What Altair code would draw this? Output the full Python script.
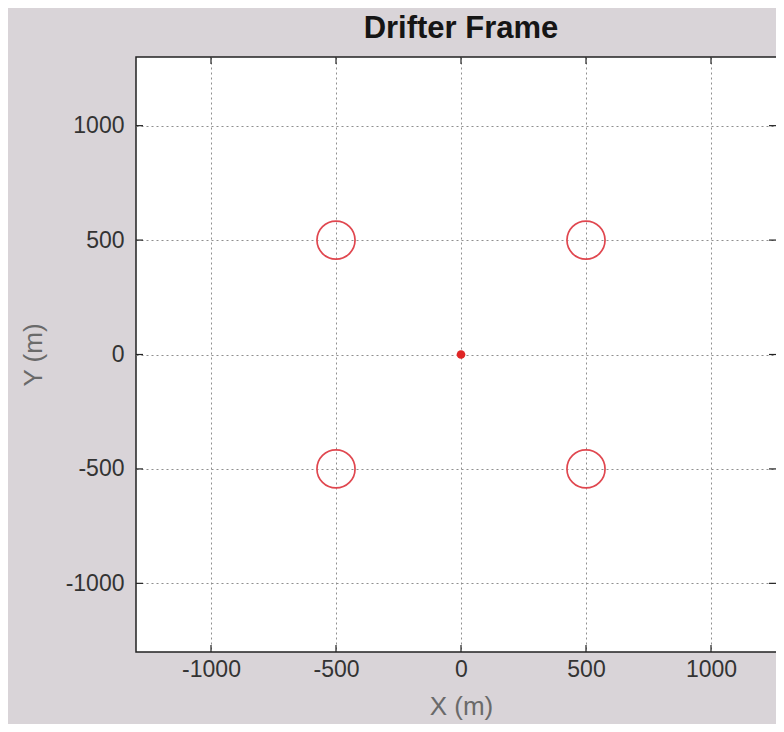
import altair as alt
import pandas as pd

# data
circle_x = [-500, 500, -500, 500]
circle_y = [500, 500, -500, -500]
center_x = [0]
center_y = [0]
ticks = [-1000, -500, 0, 500, 1000]

W, H = 650, 595
FONT = "Liberation Sans, Arial, sans-serif"

circles = pd.DataFrame({"x": circle_x, "y": circle_y})
center = pd.DataFrame({"x": center_x, "y": center_y})
tickdf = pd.DataFrame({"t": ticks})

xs = alt.Scale(domain=[-1300, 1300], nice=False, zero=False)
ys = alt.Scale(domain=[-1300, 1300], nice=False, zero=False)

common = dict(values=ticks, grid=True, gridDash=[2, 3], gridColor="#8f8f8f",
              gridWidth=1, ticks=False, domain=False, labelFont=FONT, labelFontSize=23,
              labelColor="#333333", labelExpr="datum.value + ''",
              titleFont=FONT, titleFontSize=26, titleFontWeight="normal",
              titleColor="#6a6a6a")
xax = alt.Axis(title="X (m)", labelPadding=6, titlePadding=12, **common)
yax = alt.Axis(title="Y (m)", labelPadding=12, titlePadding=19, **common)

rings = alt.Chart(circles).mark_point(shape="circle", size=1450, filled=False,
                                      color="#e0474f", strokeWidth=1.7, opacity=1).encode(
    x=alt.X("x:Q", scale=xs, axis=xax),
    y=alt.Y("y:Q", scale=ys, axis=yax),
)

dot = alt.Chart(center).mark_point(shape="circle", size=75, filled=True,
                                   color="#e02626", opacity=1).encode(
    x=alt.X("x:Q", scale=xs),
    y=alt.Y("y:Q", scale=ys),
)

tick_style = dict(color="#222222", strokeWidth=1.2)
tb = alt.Chart(tickdf).mark_rule(**tick_style).encode(
    x=alt.X("t:Q", scale=xs), y=alt.value(H), y2=alt.value(H - 7))
tt = alt.Chart(tickdf).mark_rule(**tick_style).encode(
    x=alt.X("t:Q", scale=xs), y=alt.value(0), y2=alt.value(7))
tl = alt.Chart(tickdf).mark_rule(**tick_style).encode(
    y=alt.Y("t:Q", scale=ys), x=alt.value(0), x2=alt.value(7))
tr = alt.Chart(tickdf).mark_rule(**tick_style).encode(
    y=alt.Y("t:Q", scale=ys), x=alt.value(W - 10), x2=alt.value(W - 17))

chart = alt.layer(rings, dot, tb, tt, tl, tr).properties(
    width=W, height=H,
    autosize=alt.AutoSizeParams(type="none"),
    padding={"left": 128, "top": 49, "right": -10, "bottom": 72},
    background="#d9d4d8",
    title=alt.TitleParams("Drifter Frame", font=FONT, fontSize=31, fontWeight="bold",
                          color="#151515", offset=11, anchor="middle"),
).configure_view(stroke="#222222", strokeWidth=1.5, fill="white")

chart.save("out.html", embed_options={"renderer": "svg", "actions": False})
